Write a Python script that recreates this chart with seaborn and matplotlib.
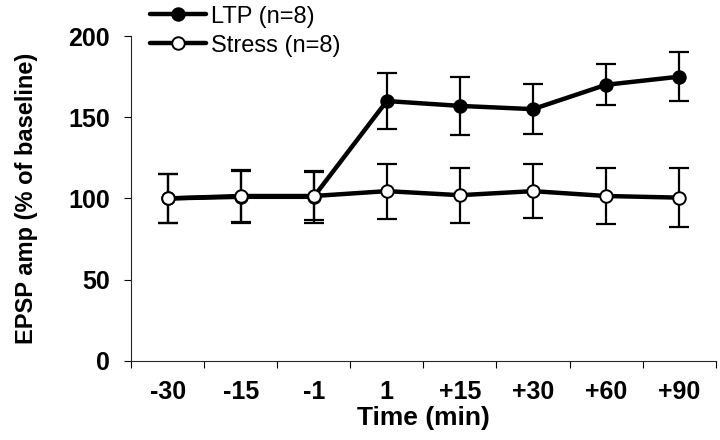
import matplotlib
matplotlib.use("Agg")
import matplotlib.pyplot as plt
import seaborn as sns
import pandas as pd
from matplotlib.lines import Line2D
from matplotlib import font_manager

# data
times = ["-30", "-15", "-1", "1", "+15", "+30", "+60", "+90"]
ltp_mean = [100, 101, 101, 160, 157, 155, 170, 175]
ltp_err = [15, 16, 16, 17, 18, 15.5, 12.5, 15]
stress_mean = [100, 101.5, 101.5, 104.5, 102, 104.5, 101.5, 100.5]
stress_err = [15, 16, 15, 17, 17, 16.5, 17.5, 18]

sns.set_style("ticks")
names = {f.name for f in font_manager.fontManager.ttflist}
narrow = "Liberation Sans Narrow" if "Liberation Sans Narrow" in names else "Liberation Sans"
plt.rcParams['font.family'] = ['Liberation Sans', 'DejaVu Sans']
plt.rcParams['text.color'] = 'black'
plt.rcParams['axes.labelcolor'] = 'black'
plt.rcParams['xtick.color'] = 'black'
plt.rcParams['ytick.color'] = 'black'

df = pd.DataFrame({
    "time": times * 2,
    "amp": ltp_mean + stress_mean,
    "err": ltp_err + stress_err,
    "group": ["LTP (n=8)"] * 8 + ["Stress (n=8)"] * 8,
})

fig = plt.figure(figsize=(7.2, 4.4), dpi=100)
ax = fig.add_axes([0.182, 0.18, 0.812, 0.738])

styles = {"LTP (n=8)": "black", "Stress (n=8)": "white"}
for name, face in styles.items():
    sub = df[df["group"] == name]
    ax.errorbar(sub["time"], sub["amp"], yerr=sub["err"], fmt="none",
                ecolor="black", elinewidth=1.6, capsize=7, capthick=1.6, zorder=2)
    sns.lineplot(data=sub, x="time", y="amp", ax=ax, color="black", lw=3.2,
                 marker="o", markersize=9, markerfacecolor=face,
                 markeredgecolor="black", markeredgewidth=1.4, zorder=3,
                 sort=False, legend=False)

ax.set_xlim(-0.5, 7.5)
ax.set_ylim(0, 200)
ax.set_yticks([0, 50, 100, 150, 200])
ax.set_xticks(range(len(times)))
ax.set_xticklabels(times)
ax.set_xticks([i - 0.5 for i in range(len(times) + 1)], minor=True)
ax.tick_params(axis="x", which="major", length=0, pad=14)
ax.tick_params(axis="x", which="minor", length=5, width=0.8)
ax.tick_params(axis="y", length=5, width=0.8, pad=10)
for lab in ax.get_xticklabels() + ax.get_yticklabels():
    lab.set_fontsize(18)
    lab.set_fontweight("bold")
    lab.set_family([narrow, 'DejaVu Sans'])

ax.set_xlabel("Time (min)", fontsize=19, fontweight="bold", labelpad=1,
              family=[narrow, 'DejaVu Sans'])
ax.set_ylabel("EPSP amp (% of baseline)", fontsize=17, fontweight="bold", labelpad=22)
sns.despine(ax=ax)
for sp in ["left", "bottom"]:
    ax.spines[sp].set_linewidth(0.8)

handles = [Line2D([], [], color="black", lw=3.2, marker="o", markersize=9,
                  markerfacecolor=f, markeredgecolor="black", markeredgewidth=1.4)
           for f in styles.values()]
fig.legend(handles, list(styles.keys()), loc="upper left",
           bbox_to_anchor=(0.185, 1.025), frameon=False, fontsize=17,
           handlelength=2.4, handletextpad=0.2, labelspacing=0.3, borderpad=0.2)

fig.savefig("out.png", dpi=100)
